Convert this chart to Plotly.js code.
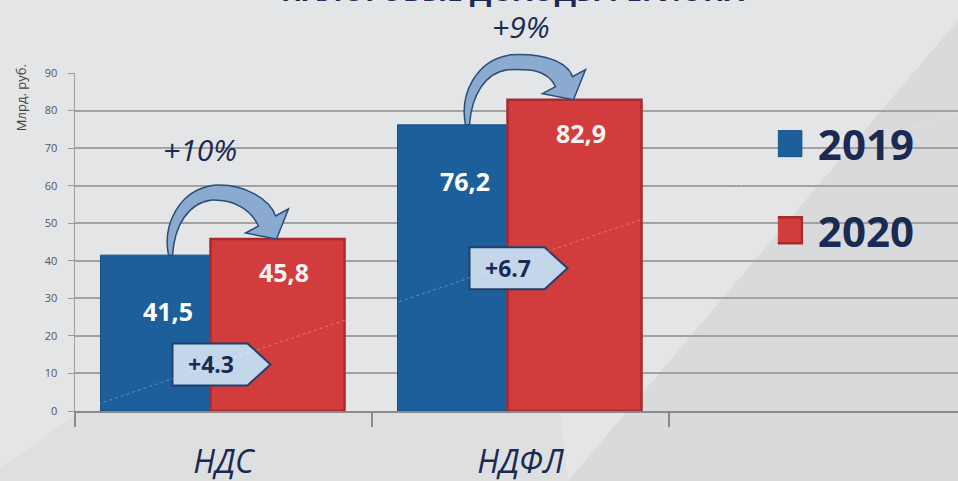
<!DOCTYPE html>
<html><head><meta charset="utf-8">
<script src="https://cdn.plot.ly/plotly-3.0.1.min.js"></script>
<style>html,body{margin:0;padding:0;background:#e3e5e8}#chart{width:958px;height:481px}</style>
</head><body><div id="chart"></div>
<script>
// ---- data ----
const categories = ['НДС', 'НДФЛ'];
const seriesNames = ['2019', '2020'];
const values2019 = [41.5, 76.2];
const values2020 = [45.8, 82.9];
const labels2019 = ['41,5', '76,2'];
const labels2020 = ['45,8', '82,9'];
const diffLabels = ['+4.3', '+6.7'];
const pctLabels = ['+10%', '+9%'];
const yTickVals = [0, 10, 20, 30, 40, 50, 60, 70, 80, 90];
const yTickText = ['0', '10', '20', '30', '40', '50', '60', '70', '80', '90'];

// ---- layout helpers (positions / styles) ----
const X_RANGE = [-0.5, 2.473];
const Y_RANGE = [0, 90];
const M = {l: 75, r: 0, t: 73, b: 70};
const W = 958, HGT = 481;
const PX_CAT = 297;          // pixels per category
const PX_UNIT = 338 / 90;    // pixels per y unit
const NAVY = '#1b2a52';
const BLUE = '#1c5f9b';
const RED = '#d33c3c';
const diffBoxY = [12.4, 38.0];
const pctPos = [{dx: -0.08, y: 69.5}, {dx: 0.003, y: 102.4}];

// data -> paper conversion so decorations are not clipped by the plot area
function xp(x) { return (x - X_RANGE[0]) / (X_RANGE[1] - X_RANGE[0]); }
function yp(y) { return (y - Y_RANGE[0]) / (Y_RANGE[1] - Y_RANGE[0]); }
function px2x(cat, px) { return cat + px / PX_CAT; }
// screen pixel -> paper (for background decoration only)
function sx(px) { return (px - M.l) / (W - M.l - M.r); }
function sy(py) { return (HGT - M.b - py) / (HGT - M.t - M.b); }

function arrowPath(cat, v19, v20) {
  const tx = -55; // tail x offset from category centre, px
  const T = (rx, ry) => [xp(px2x(cat, tx + rx)), yp(v19 - ry / PX_UNIT)];
  const H = (rx, ry) => [xp(px2x(cat, tx + rx)), yp(v20 - ry / PX_UNIT)];
  const p = a => a[0].toFixed(5) + ',' + a[1].toFixed(5);
  return 'M' + p(T(0, 0)) +
    ' C' + p(T(-6, -30)) + ' ' + p(T(10, -65)) + ' ' + p(T(45, -70)) +
    ' C' + p(T(78, -72)) + ' ' + p(H(102, -38)) + ' ' + p(H(107, -23)) +
    ' L' + p(H(120, -30)) + ' L' + p(H(108, 0)) + ' L' + p(H(77, -6)) + ' L' + p(H(90, -13)) +
    ' C' + p(H(82, -30)) + ' ' + p(T(65, -56)) + ' ' + p(T(42, -55)) +
    ' C' + p(T(20, -52)) + ' ' + p(T(6, -30)) + ' ' + p(T(4, 0)) + ' Z';
}

function boxPath(cat, yc) {
  const h = 21 / PX_UNIT;
  const L = xp(px2x(cat, -51)), R = xp(px2x(cat, 24)), Tp = xp(px2x(cat, 47));
  const b = yp(yc - h), t = yp(yc + h), m = yp(yc);
  return `M${L},${b} L${R},${b} L${Tp},${m} L${R},${t} L${L},${t} Z`;
}

function polyPath(pts) {
  return 'M' + pts.map(q => sx(q[0]).toFixed(5) + ',' + sy(q[1]).toFixed(5)).join(' L') + ' Z';
}

const traces = [
  {
    type: 'bar', name: seriesNames[0], x: categories, y: values2019,
    offset: -123 / PX_CAT, width: 110 / PX_CAT,
    marker: {color: BLUE, line: {color: '#174f82', width: 1}},
    hoverinfo: 'skip', legendgroup: 'a'
  },
  {
    type: 'bar', name: seriesNames[1], x: categories, y: values2020,
    offset: -13 / PX_CAT, width: 134 / PX_CAT,
    marker: {color: RED, line: {color: '#a82a2e', width: 2.5}},
    hoverinfo: 'skip', legendgroup: 'b'
  }
];

const shapes = [
  // glossy background panels
  {type: 'path', xref: 'paper', yref: 'paper', layer: 'below', path: polyPath([[568, 481], [958, 20], [958, 481]]),
    fillcolor: '#d9dadc', line: {width: 0}},
  {type: 'path', xref: 'paper', yref: 'paper', layer: 'below', path: polyPath([[0, 481], [0, 468], [80, 412], [560, 412], [568, 481]]),
    fillcolor: '#dedfe1', line: {width: 0}}
];
const annotations = [];
const ann = (x, y, text, font, extra) => Object.assign({xref: 'paper', yref: 'paper', x: x, y: y,
  xanchor: 'center', yanchor: 'middle', text: text, showarrow: false, font: font}, extra || {});
categories.forEach((c, i) => {
  shapes.push({type: 'path', xref: 'paper', yref: 'paper', path: arrowPath(i, values2019[i], values2020[i]),
    fillcolor: '#8aabcf', line: {color: '#2a4c7a', width: 1.5}});
  shapes.push({type: 'path', xref: 'paper', yref: 'paper', path: boxPath(i, diffBoxY[i]),
    fillcolor: '#c4d6ea', line: {color: '#22406a', width: 2}});
  annotations.push(ann(xp(px2x(i, -13)), yp(diffBoxY[i]), diffLabels[i],
    {family: 'Open Sans', size: 23, color: NAVY, weight: 'bold'}));
  annotations.push(ann(xp(px2x(i, -56)), yp(values2019[i] - 15), labels2019[i],
    {family: 'Open Sans', size: 25, color: '#ffffff', weight: 'bold'}));
  annotations.push(ann(xp(px2x(i, 60)), yp(values2020[i] - 8.8), labels2020[i],
    {family: 'Open Sans', size: 25, color: '#f4f4f4', weight: 'bold'}));
  annotations.push(ann(xp(i + pctPos[i].dx), yp(pctPos[i].y), pctLabels[i],
    {family: 'Open Sans', size: 30, color: NAVY, style: 'italic'}));
});
// thin glossy highlight line across the bars
shapes.push({type: 'line', xref: 'paper', yref: 'paper', x0: sx(98), y0: sy(404), x1: sx(958), y1: sy(112),
  line: {color: 'rgba(255,255,255,0.3)', width: 1, dash: 'dot'}});
annotations.push(ann(-0.061, 0.926, 'Млрд. руб.', {family: 'Open Sans', size: 13, color: '#444'}, {textangle: -90}));
// chart title, cut by the top edge of the picture as in the original
annotations.push(ann(0.495, 1.245, 'НАЛОГОВЫЕ ДОХОДЫ РЕГИОНА',
  {family: 'Open Sans', size: 28, color: NAVY, weight: 'bold'}));

const layout = {
  width: W, height: HGT,
  margin: M,
  paper_bgcolor: '#e4e5e7', plot_bgcolor: 'rgba(0,0,0,0)',
  barmode: 'group',
  showlegend: true,
  legend: {x: 0.796, xanchor: 'left', y: 0.891, yanchor: 'top', bgcolor: 'rgba(0,0,0,0)',
    font: {family: 'Open Sans', size: 42, color: NAVY, weight: 'bold'}, tracegroupgap: 29, itemclick: false, itemdoubleclick: false},
  xaxis: {type: 'category', range: X_RANGE, tickson: 'boundaries', ticks: 'outside', ticklen: 14,
    tickcolor: '#8a8a8a', tickwidth: 2, showline: true, linecolor: '#8a8a8a', linewidth: 2, showgrid: false,
    ticklabelstandoff: 22,
    tickfont: {family: 'Open Sans', size: 32, color: NAVY, style: 'italic'}, fixedrange: true},
  yaxis: {range: Y_RANGE, tickvals: yTickVals, ticktext: yTickText, ticks: 'outside', ticklen: 6,
    tickcolor: '#999', showline: true, linecolor: '#a0a0a0', linewidth: 1.5, zeroline: false,
    ticklabelstandoff: 8,
    gridcolor: '#a2a2a2', gridwidth: 2, tickfont: {family: 'Open Sans', size: 11, color: '#555'}, fixedrange: true},
  shapes: shapes,
  annotations: annotations
};

Plotly.newPlot('chart', traces, layout, {displayModeBar: false, staticPlot: true}).then(() => {
  document.querySelectorAll('#chart .legendpoints path').forEach(p => {
    p.setAttribute('d', 'M4,13H-22V-13H4Z');
  });
});
</script>
</body></html>
